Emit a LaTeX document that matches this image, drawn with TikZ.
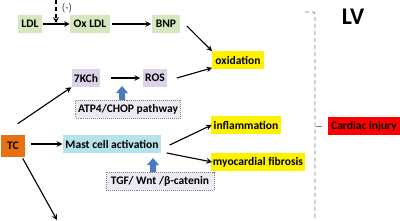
\documentclass[tikz,border=0pt]{standalone}
\usepackage{fontspec}
\setmainfont{Carlito}[BoldFont={Carlito Bold}]
\usepackage{tikz}
\usetikzlibrary{calc}

\definecolor{ldlgreen}{RGB}{215,230,190}
\definecolor{kchpurple}{RGB}{220,210,232}
\definecolor{mastblue}{RGB}{182,226,236}
\definecolor{tcorange}{RGB}{232,112,20}
\definecolor{pathlav}{RGB}{236,233,242}
\definecolor{fatblue}{RGB}{72,122,190}

\tikzset{
  box/.style={inner sep=1pt, minimum height=0.45cm, font=\fontsize{8.2}{9}\selectfont\bfseries},
  outbox/.style={box, fill=yellow, minimum height=0.43cm},
  pathbox/.style={box, fill=pathlav, draw=gray, densely dotted, minimum height=0.45cm},
  arr/.style={->, >=stealth, thick},
}

\begin{document}
\begin{tikzpicture}[x=0.025cm, y=-0.025cm]
  \useasboundingbox (0,0) rectangle (400,220);

  % top row
  \node[box, fill=ldlgreen, minimum width=0.62cm] (ldl) at (30,24) {LDL};
  \node[box, fill=ldlgreen, minimum width=1.0cm] (oxldl) at (90,24) {Ox LDL};
  \node[box, fill=ldlgreen, minimum width=0.68cm] (bnp) at (166,24) {BNP};
  \draw[arr] (ldl) -- (oxldl);
  \draw[arr] (oxldl.east) ++(2,0) -- ($(bnp.west)+(-1,0)$);
  \coordinate (inhtop) at (56,0);
  \coordinate (inhbot) at (56,23);
  \draw[arr, densely dashed] (inhtop) -- (inhbot);
  \node[font=\fontsize{8}{9}\selectfont, text=black!70] at (67,8) {(-)};

  % 7KCh row
  \node[box, fill=kchpurple, minimum width=0.72cm] (kch) at (86,78) {7KCh};
  \node[box, fill=kchpurple, minimum width=0.58cm] (ros) at (155,78) {ROS};
  \draw[arr] ($(kch.east)+(10,0)$) -- ($(ros.west)+(-3,0)$);
  \node[pathbox, minimum width=2.62cm] (atp) at (128,109) {ATP4/CHOP pathway};

  % outcomes
  \node[outbox, minimum width=1.28cm] (oxid) at (238,60) {oxidation};
  \node[outbox, minimum width=1.75cm] (infl) at (246,125) {inflammation};
  \node[outbox, minimum width=2.33cm] (fibr) at (258,162) {myocardial fibrosis};
  \draw[arr] ($(bnp.east)+(7,2)$) -- (oxid.north west);
  \draw[arr] ($(ros.east)+(10,0)$) -- ($(oxid.south west)+(0,-1)$);

  % TC and mast cells
  \node[box, fill=tcorange, minimum width=0.62cm, minimum height=0.55cm] (tc) at (13,146) {TC};
  \node[box, fill=mastblue, minimum width=2.47cm] (mast) at (112,144) {Mast cell activation};
  \node[pathbox, minimum width=2.7cm] (tgf) at (160,181) {TGF/ Wnt /β-catenin};
  \coordinate (tcdown) at (57,220);
  \draw[arr] ($(tc.north east)+(-8,-11)$) -- (kch.south west);
  \draw[arr] ($(tc.east)+(5,-2)$) -- (mast.west);
  \draw[arr] ($(tc.south east)+(-3,1)$) -- (tcdown);
  \draw[arr] ($(mast.east)+(8,1)$) -- ($(infl.west)+(1,0)$);
  \draw[arr] ($(mast.east)+(5,9)$) -- ($(fibr.west)+(1,0)$);

  % fat blue arrows
  \fill[fatblue] (119,100) -- (119,93) -- (116,93) -- (122,86) -- (128,93) -- (125,93) -- (125,100) -- cycle;
  \fill[fatblue] (150,172) -- (150,165) -- (147,165) -- (153,158) -- (159,165) -- (156,165) -- (156,172) -- cycle;

  % LV bracket
  \node[font=\fontsize{17}{19}\selectfont\bfseries] (lv) at (353,17) {LV};
  \node[box, fill=red, minimum width=1.78cm] (injury) at (364,126) {Cardiac injury};
  \coordinate (brtop) at (305,12);
  \coordinate (brmid) at (316,126);
  \coordinate (brtick) at (322,126);
  \draw[gray, densely dashed, semithick] (brtop) -- (314,12) -- (315,14) -- (315,220);
  \draw[gray, semithick] (brmid) -- (brtick);
\end{tikzpicture}
\end{document}
